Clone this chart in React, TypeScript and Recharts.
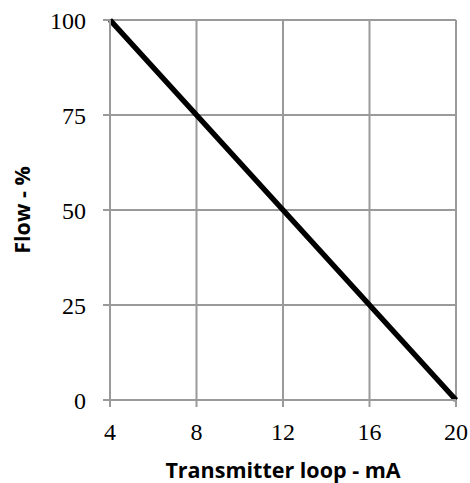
import { CartesianGrid, Line, LineChart, XAxis, YAxis } from 'recharts';

const loopMa = [4, 8, 12, 16, 20];
const flowPct = [100, 75, 50, 25, 0];
const xTicks = [4, 8, 12, 16, 20];
const yTicks = [0, 25, 50, 75, 100];

const data = loopMa.map((ma, i) => ({ ma, flow: flowPct[i] }));

const gridColor = '#9a9a9a';
const tickFont = { fill: '#000', fontFamily: '"Liberation Serif", serif', fontSize: 24 };
const titleFont = { fontFamily: '"Open Sans", sans-serif', fontWeight: 700, fontSize: 21.5, fill: '#000' };

function App() {
  return (
    <div style={{ position: 'absolute', left: 0, top: 0, width: 470, height: 483, background: '#fff' }}>
      <LineChart width={470} height={483} data={data} margin={{ top: 20, right: 14, left: 0, bottom: 0 }}>
        <CartesianGrid stroke={gridColor} strokeWidth={2} />
        <XAxis
          dataKey="ma"
          type="number"
          domain={[4, 20]}
          ticks={xTicks}
          height={83}
          tickSize={7}
          tickMargin={16}
          stroke={gridColor}
          strokeWidth={2}
          tick={tickFont}
          label={{ value: 'Transmitter loop - mA', position: 'insideBottom', offset: 5, style: titleFont }}
        />
        <YAxis
          dataKey="flow"
          type="number"
          domain={[0, 100]}
          ticks={yTicks}
          width={110}
          tickSize={7}
          tickMargin={17}
          stroke={gridColor}
          strokeWidth={2}
          tick={tickFont}
          label={{ value: 'Flow - %', angle: -90, position: 'insideLeft', offset: 22, style: { ...titleFont, textAnchor: 'middle' } }}
        />
        <Line
          dataKey="flow"
          stroke="#000"
          strokeWidth={5.5}
          dot={false}
          isAnimationActive={false}
        />
      </LineChart>
    </div>
  );
}

export default App;
